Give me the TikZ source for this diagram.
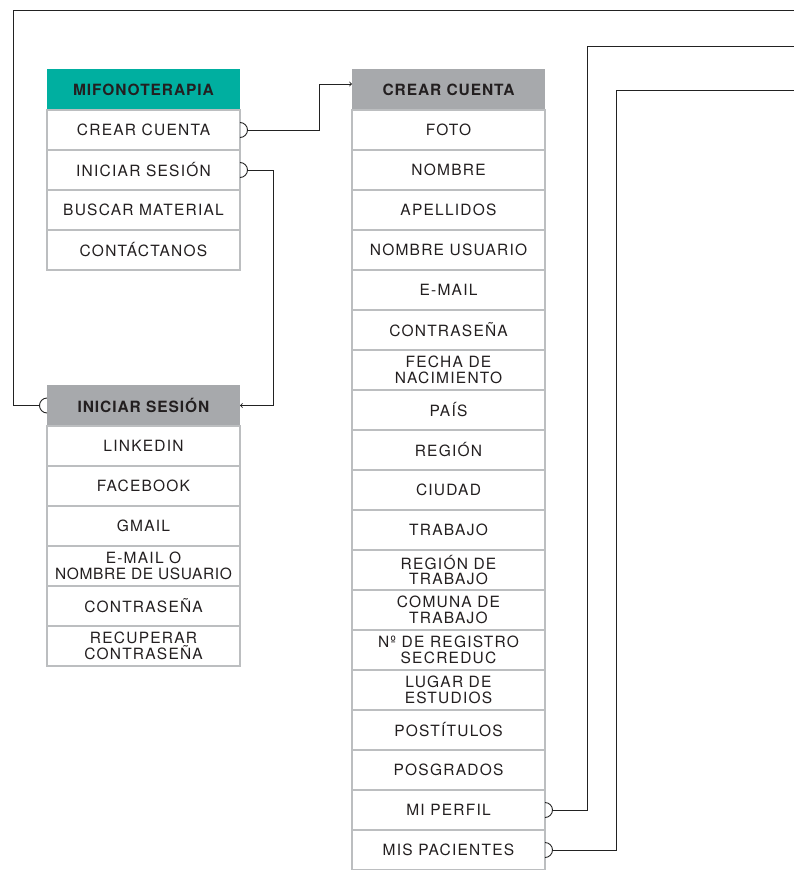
\documentclass[tikz,border=0pt]{standalone}
\usepackage{fontspec}
\setmainfont{TeX Gyre Heros}[LetterSpace=8,BoldFeatures={LetterSpace=6}]
\usepackage{xcolor}
\usetikzlibrary{positioning, arrows.meta, arrows}

\definecolor{mfteal}{HTML}{00AFA0}
\definecolor{headgray}{HTML}{A7A9AC}
\definecolor{cellgray}{HTML}{BCBEC0}
\definecolor{ink}{HTML}{231F20}
\definecolor{wirecol}{HTML}{222222}

\begin{document}
\begin{tikzpicture}[x=1pt,y=-1pt,node distance=0pt,>=to,
    cell/.style={draw=cellgray,line width=1.5pt,fill=white,minimum width=193pt,minimum height=40pt,
        inner sep=0pt,outer sep=0pt,align=center,text=ink,font=\fontsize{15.5}{15.5}\selectfont},
    head/.style={cell,draw=none,fill=headgray,minimum height=41pt,font=\fontsize{15.5}{15.5}\selectfont\bfseries},
    wire/.style={draw=wirecol,line width=0.9pt}]
    \useasboundingbox (0,0) rectangle (793,870);

    % main menu
    \node[head,fill=mfteal] (mf0) at (143.5,89.5) {MIFONOTERAPIA};
    \node[cell] (mf1) [below=of mf0] {CREAR CUENTA};
    \node[cell] (mf2) [below=of mf1] {INICIAR SESIÓN};
    \node[cell] (mf3) [below=of mf2] {BUSCAR MATERIAL};
    \node[cell] (mf4) [below=of mf3] {CONTÁCTANOS};

    % login
    \node[head] (is0) at (143.5,405.5) {INICIAR SESIÓN};
    \node[cell] (is1) [below=of is0] {LINKEDIN};
    \node[cell] (is2) [below=of is1] {FACEBOOK};
    \node[cell] (is3) [below=of is2] {GMAIL};
    \node[cell] (is4) [below=of is3] {E-MAIL O\\\addfontfeatures{LetterSpace=4}NOMBRE DE USUARIO};
    \node[cell] (is5) [below=of is4] {CONTRASEÑA};
    \node[cell] (is6) [below=of is5] {RECUPERAR\\CONTRASEÑA};

    % new account
    \node[head] (cc0) at (448.5,89.5) {CREAR CUENTA};
    \node[cell] (cc1) [below=of cc0] {FOTO};
    \node[cell] (cc2) [below=of cc1] {NOMBRE};
    \node[cell] (cc3) [below=of cc2] {APELLIDOS};
    \node[cell] (cc4) [below=of cc3] {NOMBRE USUARIO};
    \node[cell] (cc5) [below=of cc4] {E-MAIL};
    \node[cell] (cc6) [below=of cc5] {CONTRASEÑA};
    \node[cell] (cc7) [below=of cc6] {FECHA DE\\NACIMIENTO};
    \node[cell] (cc8) [below=of cc7] {PAÍS};
    \node[cell] (cc9) [below=of cc8] {REGIÓN};
    \node[cell] (cc10) [below=of cc9] {CIUDAD};
    \node[cell] (cc11) [below=of cc10] {TRABAJO};
    \node[cell] (cc12) [below=of cc11] {REGIÓN DE\\TRABAJO};
    \node[cell] (cc13) [below=of cc12] {COMUNA DE\\TRABAJO};
    \node[cell] (cc14) [below=of cc13] {Nº DE REGISTRO\\SECREDUC};
    \node[cell] (cc15) [below=of cc14] {LUGAR DE\\ESTUDIOS};
    \node[cell] (cc16) [below=of cc15] {POSTÍTULOS};
    \node[cell] (cc17) [below=of cc16] {POSGRADOS};
    \node[cell] (cc18) [below=of cc17] {MI PERFIL};
    \node[cell] (cc19) [below=of cc18] {MIS PACIENTES};

    % loose ends leaving the page
    \coordinate (out1) at (796,10);
    \coordinate (out2) at (796,46.5);
    \coordinate (out3) at (796,90);

    % links
    \draw[wire] ([yshift=7.5pt]mf1.east) arc[start angle=90,end angle=-90,radius=7.5pt];
    \draw[wire,->] ([xshift=7.5pt]mf1.east) -- ++(71.5pt,0) |- ([yshift=5.5pt]cc0.west);
    \draw[wire] ([yshift=7.5pt]mf2.east) arc[start angle=90,end angle=-90,radius=7.5pt];
    \draw[wire,->] ([xshift=7.5pt]mf2.east) -- ++(25.5pt,0) |- (is0.east);
    \draw[wire] ([yshift=7.5pt]is0.west) arc[start angle=90,end angle=270,radius=7.5pt];
    \draw[wire] ([xshift=-7.5pt]is0.west) -| (13,10) -- (out1);
    \draw[wire] ([yshift=7.5pt]cc18.east) arc[start angle=90,end angle=-90,radius=7.5pt];
    \draw[wire] ([xshift=7.5pt]cc18.east) -- ++(35pt,0) |- (out2);
    \draw[wire] ([yshift=7.5pt]cc19.east) arc[start angle=90,end angle=-90,radius=7.5pt];
    \draw[wire] ([xshift=7.5pt]cc19.east) -- ++(63.5pt,0) |- (out3);
\end{tikzpicture}
\end{document}
